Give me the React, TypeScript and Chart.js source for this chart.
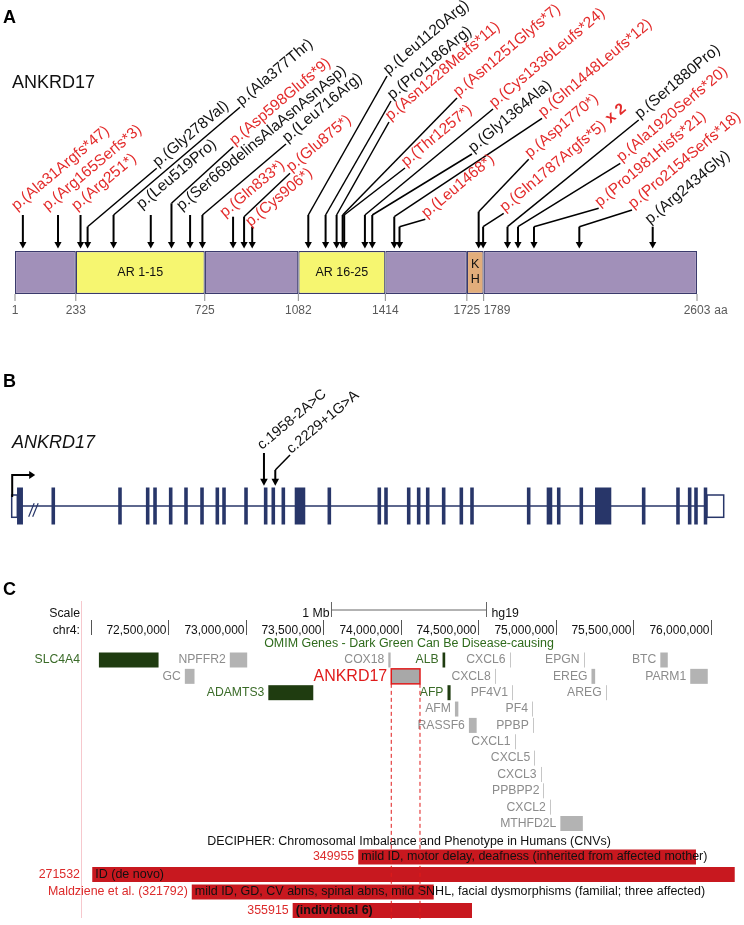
import React, { useEffect, useRef } from 'react';
import { Chart, registerables } from 'chart.js';

Chart.register(...registerables);

const FONT = '"Liberation Sans", Arial, Helvetica, sans-serif';
const f = (px: number, w = '') => `${w ? w + ' ' : ''}${px}px ${FONT}`;
const RED = '#e32b2b';

// ================= Panel A data (protein, amino acids) =================
const proteinStart = 1;
const proteinEnd = 2603;
const domainStart = [1, 233, 725, 1082, 1414, 1725, 1789];
const domainEnd = [233, 725, 1082, 1414, 1725, 1789, 2603];
const domainName = ['', 'AR 1-15', '', 'AR 16-25', '', 'K|H', ''];
const domainKind = ['other', 'ankyrin', 'other', 'ankyrin', 'other', 'kh', 'other'];
const aaTickValues = [1, 233, 725, 1082, 1414, 1725, 1789, 2603];

const variantPosition = [31, 165, 251, 278, 377, 519, 598, 669, 716, 833, 875, 906, 1120, 1186, 1228, 1251, 1257, 1336, 1364, 1448, 1468, 1770, 1787, 1880, 1920, 1981, 2154, 2434];
const variantName = [
  'p.(Ala31Argfs*47)', 'p.(Arg165Serfs*3)', 'p.(Arg251*)', 'p.(Gly278Val)', 'p.(Ala377Thr)',
  'p.(Leu519Pro)', 'p.(Asp598Glufs*9)', 'p.(Ser669delinsAlaAsnAsnAsp)', 'p.(Leu716Arg)', 'p.(Gln833*)',
  'p.(Glu875*)', 'p.(Cys906*)', 'p.(Leu1120Arg)', 'p.(Pro1186Arg)', 'p.(Asn1228Metfs*11)',
  'p.(Asn1251Glyfs*7)', 'p.(Thr1257*)', 'p.(Cys1336Leufs*24)', 'p.(Gly1364Ala)', 'p.(Gln1448Leufs*12)',
  'p.(Leu1468*)', 'p.(Asp1770*)', 'p.(Gln1787Argfs*5)', 'p.(Ser1880Pro)', 'p.(Ala1920Serfs*20)',
  'p.(Pro1981Hisfs*21)', 'p.(Pro2154Serfs*18)', 'p.(Arg2434Gly)',
];
const variantTruncating = [1, 1, 1, 0, 0, 0, 1, 0, 0, 1, 1, 1, 0, 0, 1, 1, 1, 1, 0, 1, 1, 1, 1, 0, 1, 1, 1, 0];
const variantCount = [1, 1, 1, 1, 1, 1, 1, 1, 1, 1, 1, 1, 1, 1, 1, 1, 1, 1, 1, 1, 1, 1, 2, 1, 1, 1, 1, 1];

// ================= Panel B data (gene schematic, % of transcript) =================
const exonStart = [0.79, 5.63, 15.0, 18.89, 19.92, 22.12, 24.27, 26.52, 28.67, 29.61, 32.7, 35.46, 36.53, 37.94, 39.79, 44.4, 51.42, 52.36, 55.55, 56.95, 58.22, 60.46, 62.94, 64.44, 72.4, 75.18, 76.62, 79.79, 81.97, 88.55, 93.37, 95.01, 95.9, 97.24];
const exonEnd = [1.54, 6.05, 15.42, 19.31, 20.34, 22.54, 24.69, 26.94, 29.09, 30.03, 33.12, 35.88, 36.95, 38.36, 41.19, 44.82, 51.84, 52.78, 55.97, 57.37, 58.64, 60.88, 63.36, 64.86, 72.82, 75.88, 77.04, 80.21, 84.17, 88.97, 93.79, 95.43, 96.32, 97.65];
const utrStart = [0, 97.65];
const utrEnd = [0.79, 100];
const spliceName = ['c.1958-2A>C', 'c.2229+1G>A'];
const splicePosition = [35.43, 37.02];

// ================= Panel C data (chr4, hg19) =================
const windowStart = 71943900;
const windowEnd = 76163200;
const rulerTicks = [72000000, 72500000, 73000000, 73500000, 74000000, 74500000, 75000000, 75500000, 76000000];
const geneName = ['SLC4A4', 'NPFFR2', 'COX18', 'ALB', 'CXCL6', 'EPGN', 'BTC', 'GC', 'ANKRD17', 'CXCL8', 'EREG', 'PARM1', 'ADAMTS3', 'AFP', 'PF4V1', 'AREG', 'AFM', 'PF4', 'RASSF6', 'PPBP', 'CXCL1', 'CXCL5', 'CXCL3', 'PPBPP2', 'CXCL2', 'MTHFD2L'];
const geneStart = [72053003, 72897521, 73920000, 74269972, 74702214, 75180000, 75675000, 72607410, 73939092, 74606223, 75230860, 75868000, 73146000, 74301864, 74718000, 75322000, 74350000, 74846794, 74440000, 74852000, 74735100, 74861000, 74902000, 74921000, 74962000, 75030000];
const geneEnd = [72437804, 73009671, 73935000, 74287129, 74704409, 75182000, 75723000, 72669758, 74124506, 74609433, 75254468, 75981000, 73436000, 74321891, 74719200, 75328000, 74372000, 74847841, 74490000, 74854000, 74737000, 74864000, 74904000, 74923000, 74964000, 75175000];
const geneDiseaseCausing = [1, 0, 0, 1, 0, 0, 0, 0, 0, 0, 0, 0, 1, 1, 0, 0, 0, 0, 0, 0, 0, 0, 0, 0, 0, 0];
const highlightedGene = 'ANKRD17';
const cnvId = ['349955', '271532', 'Maldziene et al. (321792)', '355915'];
const cnvStart = [73726000, 72010000, 72652000, 73303000];
const cnvEnd = [75905000, 76155000, 74213000, 74460000];
const cnvPhenotype = [
  'mild ID, motor delay, deafness (inherited from affected mother)',
  'ID (de novo)',
  'mild ID, GD, CV abns, spinal abns, mild SNHL, facial dysmorphisms (familial; three affected)',
  '(individual 6)',
];
const cnvBold = [0, 0, 0, 1];

// ================= Layout (page pixels) =================
const PANEL_A = { top: 0, height: 340 };
const PANEL_B = { top: 340, height: 200 };
const PANEL_C = { top: 540, height: 385 };
const A = { barCenter: 272.5, barHeight: 43, arrowTip: 248.5, tickLabelY: 311 };
const A_STEM_TOP = [215, 215, 215, 226.7, 215, 215, 203.3, 215, 215, 216.7, 216.7, 226.7, 215, 215, 215, 215, 215, 215, 215, 216.7, 226.7, 211.7, 226.7, 226.7, 226.7, 226.7, 226.7, 226.7];
// leader end (label attached by a line) or direct label start (no line)
const A_LEADER_END: (number[] | null)[] = [null, null, null, [156.7, 168.3], [240, 107.3], null, [233.3, 146.7], null, [286, 144], null, [290, 173.3], null, [387, 76], [391, 101], [389, 122], [457, 98], [405, 168], [493, 109], [472, 154], [542, 118.3], [425.3, 219.3], [528.7, 159.3], [503.7, 213.3], [638.7, 120], [620.3, 163.3], [598.7, 208.3], [632, 210], null];
const A_DIRECT_START: (number[] | null)[] = [[16.4, 211], [47.4, 211], [76.4, 211], null, null, [141.4, 209.4], null, [181.4, 211], null, [224.8, 217.7], null, [250.5, 227], null, null, null, null, null, null, null, null, null, null, null, null, null, null, null, [650.1, 224.4]];
const B = { lineY: 506, exonTop: 487.7, exonBottom: 524.3, utrTop: 495, utrBottom: 517.3, arrowTip: 485.7 };
const B_STEM_TOP = [453, 470];
const B_LEADER_END: (number[] | null)[] = [null, [290, 455]];
const B_DIRECT_START: (number[] | null)[] = [[262, 450], null];
const C = { rowFirst: 660, rowStep: 16.35, boxH: 15, marginRight: 80 };
const GENE_ROW = [1, 1, 1, 1, 1, 1, 1, 2, 2, 2, 2, 2, 3, 3, 3, 3, 4, 4, 5, 5, 6, 7, 8, 9, 10, 11];
const GENE_LABEL_IN_MARGIN = [1, 0, 0, 0, 0, 0, 0, 0, 0, 0, 0, 0, 0, 0, 0, 0, 0, 0, 0, 0, 0, 0, 0, 0, 0, 0];
const CNV_ROW_Y = [857, 874.5, 892, 910.5];
const CNV_LABEL_IN_MARGIN = [0, 1, 0, 0];

const DOMAIN_COLORS: Record<string, string> = { other: '#a190b9', ankyrin: '#f6f670', kh: '#e2ad7b' };

// ================= drawing helpers =================
function txt(ctx: any, s: string, x: number, y: number, font: string, color: string, align = 'left', base = 'alphabetic') {
  ctx.save();
  ctx.font = font;
  ctx.fillStyle = color;
  ctx.textAlign = align;
  ctx.textBaseline = base;
  ctx.fillText(s, x, y);
  const w = ctx.measureText(s).width;
  ctx.restore();
  return w;
}
function seg(ctx: any, x1: number, y1: number, x2: number, y2: number, color: string, lw: number, dash: number[] = []) {
  ctx.save();
  ctx.beginPath();
  ctx.setLineDash(dash);
  ctx.moveTo(x1, y1);
  ctx.lineTo(x2, y2);
  ctx.strokeStyle = color;
  ctx.lineWidth = lw;
  ctx.stroke();
  ctx.restore();
}
function downArrow(ctx: any, x: number, top: number, tip: number, lw: number, headH: number, half: number) {
  seg(ctx, x, top, x, tip - headH + 1, '#000', lw);
  ctx.save();
  ctx.beginPath();
  ctx.moveTo(x - half, tip - headH);
  ctx.lineTo(x + half, tip - headH);
  ctx.lineTo(x, tip);
  ctx.closePath();
  ctx.fillStyle = '#000';
  ctx.fill();
  ctx.restore();
}
function rotLabel(ctx: any, s: string, x: number, y: number, font: string, color: string, deg: number) {
  ctx.save();
  ctx.translate(x, y);
  ctx.rotate((deg * Math.PI) / 180);
  ctx.font = font;
  ctx.fillStyle = color;
  ctx.textAlign = 'left';
  ctx.textBaseline = 'alphabetic';
  ctx.fillText(s, 0, 0);
  const w = ctx.measureText(s).width;
  ctx.restore();
  return w;
}
const ANG = -40;
const COS = Math.cos((ANG * Math.PI) / 180);
const SIN = Math.sin((ANG * Math.PI) / 180);

function scalesOf(chart: any) {
  return {
    X: (v: number) => chart.scales.x.getPixelForValue(v),
    Y: (v: number) => chart.scales.y.getPixelForValue(v),
  };
}

function drawVariant(ctx: any, X: (v: number) => number, Y: (v: number) => number, pos: number, stemTopV: number, tipV: number,
  lead: number[] | null, direct: number[] | null, label: string, color: string, font: string, headH: number, half: number) {
  const x = X(pos);
  const stemTop = Y(stemTopV);
  downArrow(ctx, x, stemTop, Y(tipV), 2, headH, half);
  let ax = x - 2;
  let ay = stemTop - 3;
  if (lead) {
    seg(ctx, x, stemTop, lead[0], Y(lead[1]), '#000', 1.5);
    ax = lead[0] + 1.5 * COS;
    ay = Y(lead[1]) + 1.5 * SIN;
  } else if (direct) {
    ax = direct[0];
    ay = Y(direct[1]);
  }
  const w = rotLabel(ctx, label, ax, ay, font, color, ANG);
  return { ax, ay, w };
}

// ================= Panel A plugin =================
const panelAPlugin = {
  id: 'panelA',
  afterDatasetsDraw(chart: any) {
    const ctx = chart.ctx;
    const { X, Y } = scalesOf(chart);
    txt(ctx, 'A', 3, Y(23), f(18, 'bold'), '#000');
    txt(ctx, 'ANKRD17', 12, Y(88), f(18), '#111');

    domainName.forEach((name, i) => {
      if (!name) return;
      const cx = (X(domainStart[i]) + X(domainEnd[i])) / 2;
      const parts = name.split('|');
      parts.forEach((p, j) => {
        const cy = A.barCenter + (j - (parts.length - 1) / 2) * 15;
        txt(ctx, p, cx, Y(cy), f(12.5), '#111', 'center', 'middle');
      });
    });

    const barBottom = A.barCenter + A.barHeight / 2;
    aaTickValues.forEach((t, i) => {
      const x = X(t);
      seg(ctx, x, Y(barBottom), x, Y(barBottom + 7), '#8a8a8a', 1);
      const crowded = i > 0 && x - X(aaTickValues[i - 1]) < 25;
      const label = String(t);
      const w = txt(ctx, label, x, Y(A.tickLabelY), f(12), '#5a5a5a', crowded ? 'left' : 'center', 'middle');
      if (i === aaTickValues.length - 1) txt(ctx, 'aa', x + w / 2 + 4, Y(A.tickLabelY), f(12), '#5a5a5a', 'left', 'middle');
    });

    variantPosition.forEach((p, i) => {
      const color = variantTruncating[i] ? RED : '#111';
      const { ax, ay, w } = drawVariant(ctx, X, Y, p, A_STEM_TOP[i], A.arrowTip, A_LEADER_END[i], A_DIRECT_START[i],
        variantName[i], color, f(15.5), 6.5, 3.6);
      if (variantCount[i] > 1) {
        rotLabel(ctx, `x ${variantCount[i]}`, ax + (w + 5) * COS, ay + (w + 5) * SIN, f(15.5, 'bold'), color, ANG);
      }
    });
  },
};

// ================= Panel B plugin =================
const panelBPlugin = {
  id: 'panelB',
  beforeDatasetsDraw(chart: any) {
    const ctx = chart.ctx;
    const { X, Y } = scalesOf(chart);
    const navy = '#283669';
    seg(ctx, X(utrEnd[0]), Y(B.lineY), X(utrStart[1]), Y(B.lineY), navy, 1.5);
    const bx = X(exonEnd[0]) + 8;
    seg(ctx, bx - 2, Y(516.7), bx + 3.5, Y(503.3), navy, 1.2);
    seg(ctx, bx + 2, Y(516.7), bx + 7.5, Y(503.3), navy, 1.2);
  },
  afterDatasetsDraw(chart: any) {
    const ctx = chart.ctx;
    const { X, Y } = scalesOf(chart);
    const navy = '#283669';
    txt(ctx, 'B', 3, Y(387), f(18, 'bold'), '#000');
    txt(ctx, 'ANKRD17', 12, Y(448), f(18, 'italic'), '#111');
    utrStart.forEach((s, i) => {
      ctx.save();
      ctx.strokeStyle = navy;
      ctx.lineWidth = 1.5;
      ctx.strokeRect(X(s), Y(B.utrTop), X(utrEnd[i]) - X(s), Y(B.utrBottom) - Y(B.utrTop));
      ctx.restore();
    });
    const tx = X(utrStart[0]) + 0.5;
    ctx.save();
    ctx.beginPath();
    ctx.moveTo(tx, Y(B.utrTop + 2));
    ctx.lineTo(tx, Y(475));
    ctx.lineTo(tx + 18, Y(475));
    ctx.strokeStyle = '#000';
    ctx.lineWidth = 2;
    ctx.stroke();
    ctx.beginPath();
    ctx.moveTo(tx + 17, Y(471));
    ctx.lineTo(tx + 23, Y(475));
    ctx.lineTo(tx + 17, Y(479));
    ctx.closePath();
    ctx.fillStyle = '#000';
    ctx.fill();
    ctx.restore();
    splicePosition.forEach((p, i) => {
      drawVariant(ctx, X, Y, p, B_STEM_TOP[i], B.arrowTip, B_LEADER_END[i], B_DIRECT_START[i], spliceName[i], '#111', f(14.5), 7, 3.8);
    });
  },
};

// ================= Panel C plugin =================
const rowY = (r: number) => C.rowFirst + (r - 1) * C.rowStep;
const panelCPlugin = {
  id: 'panelC',
  beforeDatasetsDraw(chart: any) {
    const ctx = chart.ctx;
    const { X, Y } = scalesOf(chart);
    const ca = chart.chartArea;
    const mid = (ca.left + ca.right) / 2;
    txt(ctx, 'C', 3, Y(595), f(18, 'bold'), '#000');
    seg(ctx, ca.left - 0.5, Y(601), ca.left - 0.5, Y(918), '#f6c8cd', 1);

    txt(ctx, 'Scale', C.marginRight, Y(616.5), f(12.3), '#111', 'right');
    const half = (X(windowStart + 1000000) - X(windowStart)) / 2;
    seg(ctx, mid - half, Y(610), mid + half, Y(610), '#666', 1);
    seg(ctx, mid - half, Y(602), mid - half, Y(617), '#666', 1);
    seg(ctx, mid + half, Y(602), mid + half, Y(617), '#666', 1);
    txt(ctx, '1 Mb', mid - half - 2, Y(616.5), f(12.3), '#111', 'right');
    txt(ctx, 'hg19', mid + half + 5, Y(616.5), f(12.3), '#111', 'left');

    txt(ctx, 'chr4:', C.marginRight, Y(634), f(12.3), '#111', 'right');
    rulerTicks.forEach((t, i) => {
      const x = Math.round(X(t)) + 0.5;
      seg(ctx, x, Y(620), x, Y(635), '#555', 1);
      if (i > 0) txt(ctx, t.toLocaleString('en-US'), x - 2, Y(633.5), f(12), '#111', 'right');
    });

    txt(ctx, 'OMIM Genes - Dark Green Can Be Disease-causing', mid, Y(644), f(12.45), '#2f6b1c', 'center', 'middle');
    geneName.forEach((g, i) => {
      const cy = rowY(GENE_ROW[i]);
      const x0 = X(geneStart[i]);
      const w = X(geneEnd[i]) - x0;
      const special = g === highlightedGene;
      const dc = geneDiseaseCausing[i];
      ctx.save();
      if (w < 1.5) {
        ctx.fillStyle = dc ? '#1f3c10' : '#c6c6c6';
        ctx.fillRect(Math.round(x0), Y(cy - C.boxH / 2), 1, C.boxH);
      } else {
        ctx.fillStyle = dc ? '#1f3c10' : special ? '#a8a8a8' : '#b3b3b3';
        ctx.fillRect(x0, Y(cy - C.boxH / 2), w, C.boxH);
      }
      if (special) {
        ctx.strokeStyle = '#e01b1b';
        ctx.lineWidth = 1.5;
        ctx.strokeRect(x0, Y(cy - C.boxH / 2), w, C.boxH);
      }
      ctx.restore();
      const color = special ? '#e01b1b' : dc ? '#3a6b28' : '#8c8c8c';
      const font = special ? f(16) : f(12.2);
      if (GENE_LABEL_IN_MARGIN[i]) txt(ctx, g, C.marginRight, Y(cy), font, color, 'right', 'middle');
      else txt(ctx, g, x0 - 4, Y(cy), font, color, 'right', 'middle');
    });

    txt(ctx, 'DECIPHER: Chromosomal Imbalance and Phenotype in Humans (CNVs)', mid, Y(841.5), f(12.45), '#111', 'center', 'middle');
    cnvId.forEach((id, i) => {
      const x0 = X(cnvStart[i]);
      const xr = CNV_LABEL_IN_MARGIN[i] ? C.marginRight : x0 - 4;
      txt(ctx, id, xr, Y(CNV_ROW_Y[i]), f(12.4), '#dc2b2b', 'right', 'middle');
    });
  },
  afterDatasetsDraw(chart: any) {
    const ctx = chart.ctx;
    const { X, Y } = scalesOf(chart);
    cnvPhenotype.forEach((p, i) => {
      txt(ctx, p, X(cnvStart[i]) + 3, Y(CNV_ROW_Y[i]), f(12.5, cnvBold[i] ? 'bold' : ''), '#111', 'left', 'middle');
    });
    const gi = geneName.indexOf(highlightedGene);
    const boxBottom = rowY(GENE_ROW[gi]) + C.boxH / 2;
    [geneStart[gi], geneEnd[gi]].forEach((v) => {
      seg(ctx, X(v), Y(boxBottom), X(v), Y(921), '#e01b1b', 1, [4, 3]);
    });
  },
};

// ================= chart factories =================
const baseOptions = (padL: number, padR: number, xmin: number, xmax: number, panel: { top: number; height: number }) => ({
  indexAxis: 'y' as const,
  responsive: false,
  animation: false as const,
  devicePixelRatio: 1,
  layout: { padding: { left: padL, right: padR, top: 0, bottom: 0 }, autoPadding: false },
  scales: {
    x: { type: 'linear' as const, min: xmin, max: xmax, display: false, offset: false },
    y: { type: 'linear' as const, min: panel.top, max: panel.top + panel.height, reverse: true, display: false, offset: false },
  },
  plugins: { legend: { display: false }, tooltip: { enabled: false } },
});

function makeA(canvas: HTMLCanvasElement) {
  return new Chart(canvas, {
    type: 'bar',
    data: {
      datasets: [{
        data: domainStart.map((s, i) => ({ x: [s, domainEnd[i]], y: A.barCenter })) as any,
        backgroundColor: domainKind.map((k) => DOMAIN_COLORS[k]),
        borderColor: '#3a3a6c',
        borderWidth: 1.2,
        borderSkipped: false,
        barThickness: A.barHeight,
        inflateAmount: 0,
      }],
    },
    options: baseOptions(15, 47, proteinStart, proteinEnd, PANEL_A) as any,
    plugins: [panelAPlugin],
  });
}

function makeB(canvas: HTMLCanvasElement) {
  return new Chart(canvas, {
    type: 'bar',
    data: {
      datasets: [{
        data: exonStart.map((s, i) => ({ x: [s, exonEnd[i]], y: B.lineY })) as any,
        backgroundColor: '#283669',
        borderWidth: 0,
        barThickness: B.exonBottom - B.exonTop,
        inflateAmount: 0.3,
      }],
    },
    options: baseOptions(11.7, 20.3, 0, 100, PANEL_B) as any,
    plugins: [panelBPlugin],
  });
}

function makeC(canvas: HTMLCanvasElement) {
  return new Chart(canvas, {
    type: 'bar',
    data: {
      datasets: [{
        data: cnvStart.map((s, i) => ({ x: [s, cnvEnd[i]], y: CNV_ROW_Y[i] })) as any,
        backgroundColor: '#c8181f',
        borderWidth: 0,
        barThickness: 15,
        inflateAmount: 0,
      }],
    },
    options: baseOptions(82, 8, windowStart, windowEnd, PANEL_C) as any,
    plugins: [panelCPlugin],
  });
}

export default function App() {
  const refA = useRef<HTMLCanvasElement>(null);
  const refB = useRef<HTMLCanvasElement>(null);
  const refC = useRef<HTMLCanvasElement>(null);
  useEffect(() => {
    const charts = [makeA(refA.current!), makeB(refB.current!), makeC(refC.current!)];
    return () => charts.forEach((c) => c.destroy());
  }, []);
  const cs = (p: { top: number; height: number }) => ({ position: 'absolute' as const, left: 0, top: p.top, width: 744, height: p.height, display: 'block' });
  return (
    <div style={{ position: 'absolute', left: 0, top: 0, width: 744, height: 925, background: '#fff', overflow: 'hidden' }}>
      <canvas ref={refA} width={744} height={PANEL_A.height} style={cs(PANEL_A)} />
      <canvas ref={refB} width={744} height={PANEL_B.height} style={cs(PANEL_B)} />
      <canvas ref={refC} width={744} height={PANEL_C.height} style={cs(PANEL_C)} />
    </div>
  );
}
